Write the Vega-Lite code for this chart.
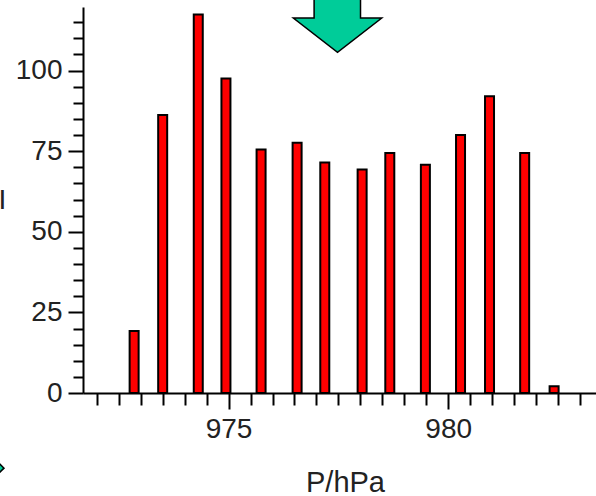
{
  "$schema": "https://vega.github.io/schema/vega-lite/v6.json",
  "width": 513,
  "height": 386,
  "autosize": {"type": "none"},
  "padding": {"left": 83, "top": 7, "right": 0, "bottom": 103},
  "background": "white",
  "config": {"view": {"stroke": null}},
  "datasets": {
    "bars": [
      {"P": 972.85, "I": 19.2},
      {"P": 973.5, "I": 86.2},
      {"P": 974.31, "I": 117.4},
      {"P": 974.94, "I": 97.5},
      {"P": 975.74, "I": 75.5},
      {"P": 976.56, "I": 77.6},
      {"P": 977.19, "I": 71.5},
      {"P": 978.04, "I": 69.3},
      {"P": 978.67, "I": 74.4},
      {"P": 979.48, "I": 70.8},
      {"P": 980.28, "I": 80.0},
      {"P": 980.94, "I": 92.0},
      {"P": 981.74, "I": 74.4},
      {"P": 982.41, "I": 2.1}
    ],
    "arrow": [{"P": 977.48, "I": 113.8}],
    "diamond": [{"P": 969.8, "I": -23.3}]
  },
  "encoding": {
    "x": {
      "field": "P", "type": "quantitative",
      "scale": {"domain": [971.8, 983.25], "nice": false, "zero": false},
      "axis": {
        "values": [972, 972.5, 973, 973.5, 974, 974.5, 975, 975.5, 976, 976.5, 977, 977.5, 978, 978.5, 979, 979.5, 980, 980.5, 981, 981.5, 982, 982.5, 983],
        "labelExpr": "datum.value % 5 === 0 ? format(datum.value, 'd') : ''",
        "labelOverlap": false,
        "labelFont": "Liberation Sans",
        "labelFontSize": 28,
        "labelColor": "#222222",
        "labelPadding": 6,
        "labelFlush": false,
        "tickSize": {"condition": {"test": "datum.value % 5 === 0", "value": 16}, "value": 12},
        "tickColor": "#000000",
        "tickWidth": 2,
        "domainColor": "#000000",
        "domainWidth": 2,
        "grid": false,
        "title": "P/hPa",
        "titleFont": "Liberation Sans",
        "titleFontSize": 29,
        "titleFontWeight": "normal",
        "titleColor": "#222222",
        "titleX": 262,
        "titleY": 98,
        "titleAlign": "center",
        "titleBaseline": "alphabetic"
      }
    },
    "y": {
      "field": "I", "type": "quantitative",
      "scale": {"domain": [0, 119.7], "nice": false},
      "axis": {
        "values": [0, 5, 10, 15, 20, 25, 30, 35, 40, 45, 50, 55, 60, 65, 70, 75, 80, 85, 90, 95, 100, 105, 110, 115],
        "labelExpr": "datum.value % 25 === 0 ? format(datum.value, 'd') : ''",
        "labelOverlap": false,
        "labelFont": "Liberation Sans",
        "labelFontSize": 28,
        "labelColor": "#222222",
        "labelPadding": 6,
        "labelFlush": false,
        "tickSize": {"condition": {"test": "datum.value % 25 === 0", "value": 15}, "value": 10},
        "tickColor": "#000000",
        "tickWidth": 2,
        "domainColor": "#000000",
        "domainWidth": 2,
        "grid": false,
        "title": "I",
        "titleFont": "Liberation Sans",
        "titleFontSize": 28,
        "titleFontWeight": "normal",
        "titleColor": "#222222",
        "titleAngle": 0,
        "titleX": -81,
        "titleY": 193,
        "titleAlign": "center",
        "titleBaseline": "middle"
      }
    }
  },
  "layer": [
    {
      "data": {"name": "bars"},
      "mark": {"type": "bar", "size": 9, "fill": "#ff0000", "stroke": "#000000", "strokeWidth": 2}
    },
    {
      "data": {"name": "arrow"},
      "mark": {
        "type": "point",
        "shape": "M -0.53 -0.62 L 0.52 -0.62 L 0.52 -0.18 L 1 -0.18 L 0 0.595 L -1 -0.18 L -0.53 -0.18 Z",
        "filled": true,
        "fill": "#00cc99",
        "stroke": "#000000",
        "strokeWidth": 1.5,
        "opacity": 1,
        "size": 7814
      }
    },
    {
      "data": {"name": "diamond"},
      "mark": {
        "type": "point",
        "shape": "diamond",
        "filled": true,
        "fill": "#00cc99",
        "stroke": "#000000",
        "strokeWidth": 1.5,
        "opacity": 1,
        "size": 60
      }
    }
  ]
}
